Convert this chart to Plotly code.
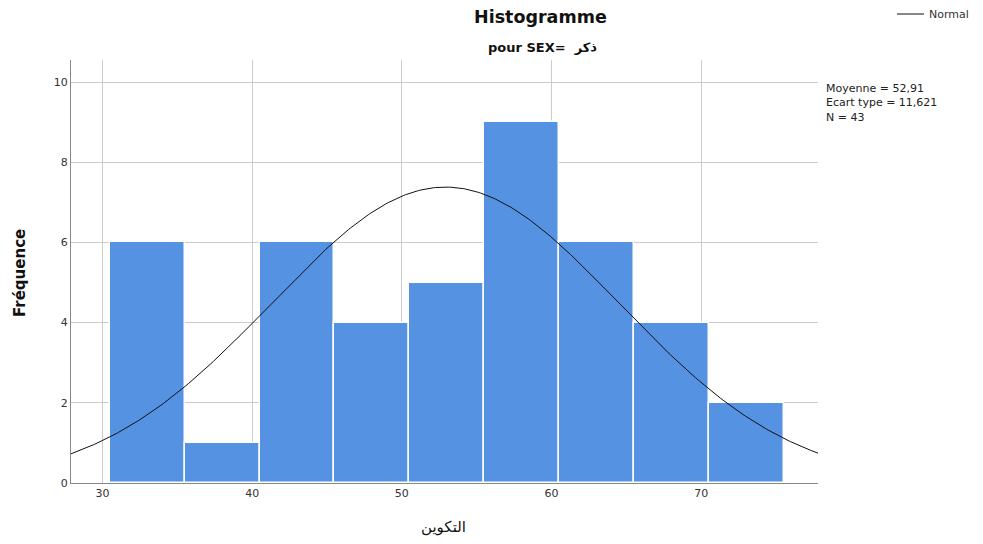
import numpy as np
import plotly.graph_objects as go

bin_starts = [30.5, 35.5, 40.5, 45.5, 50.5, 55.5, 60.5, 65.5, 70.5]
bin_width = 5
freqs = [6, 1, 6, 4, 5, 9, 6, 4, 2]
mean_val = 52.91
sd_val = 11.621
n_val = 43
x_ticks = [30, 40, 50, 60, 70]
y_ticks = [0, 2, 4, 6, 8, 10]
curve_name = "Normal"

centers = [s + bin_width / 2 for s in bin_starts]

xs = np.linspace(27.9, 77.8, 300)
ys = n_val * bin_width / (sd_val * np.sqrt(2 * np.pi)) * np.exp(-0.5 * ((xs - mean_val) / sd_val) ** 2)

OFF = 8  # default body margin of the html page
W, H = 983 - OFF, 544 - OFF
ML, MR, MT, MB = 71 - OFF, 165, 60 - OFF, 61

fig = go.Figure()
fig.add_trace(go.Bar(x=centers, y=freqs, width=bin_width,
                     marker=dict(color="#5593e2", line=dict(color="white", width=1.5)),
                     showlegend=False, hoverinfo="x+y"))
fig.add_trace(go.Scatter(x=xs, y=ys, mode="lines", line=dict(color="#111111", width=1),
                         name=curve_name, showlegend=False))

font_family = "DejaVu Sans, Liberation Sans, sans-serif"
fig.update_layout(
    width=W, height=H,
    margin=dict(l=ML, r=MR, t=MT, b=MB, autoexpand=False),
    paper_bgcolor="white", plot_bgcolor="white",
    font=dict(family=font_family, color="#222222", size=11),
    bargap=0,
    showlegend=False,
    xaxis=dict(range=[27.9, 77.8], tickvals=x_ticks, showgrid=True, gridcolor="#cccccc",
               gridwidth=1, zeroline=False, showline=True, linecolor="#888888", linewidth=1,
               ticks="", tickfont=dict(size=11, color="#333333"), automargin=False),
    yaxis=dict(range=[0, 10.55], tickvals=y_ticks, showgrid=True, gridcolor="#cccccc",
               gridwidth=1, zeroline=False, showline=True, linecolor="#888888", linewidth=1,
               ticks="", tickfont=dict(size=11, color="#333333"), automargin=False),
)

pw, ph = W - ML - MR, H - MT - MB
def px(xp):
    return (xp - OFF - ML) / pw
def py(yp):
    return (H - MB - (yp - OFF)) / ph

# legend key for the normal curve
fig.add_shape(type="line", xref="paper", yref="paper", x0=px(897), x1=px(924), y0=py(14), y1=py(14),
              line=dict(color="#111111", width=1))
fig.add_annotation(text=curve_name, x=px(927), y=py(14), xref="paper", yref="paper",
                   showarrow=False, font=dict(size=11, color="#333333"), xanchor="left", yanchor="middle")

fig.add_annotation(text="<b>Histogramme</b>", x=px(540), y=py(17), xref="paper", yref="paper",
                   showarrow=False, font=dict(size=17.5, color="#111111"), xanchor="center", yanchor="middle")
fig.add_annotation(text="<b>pour SEX=\u00a0\u00a0ذكر</b>", x=px(542), y=py(47), xref="paper", yref="paper",
                   showarrow=False, font=dict(size=13, color="#111111"), xanchor="center", yanchor="middle")
fig.add_annotation(text="<b>Fréquence</b>", x=px(20), y=py(273), xref="paper", yref="paper",
                   showarrow=False, textangle=-90, font=dict(size=15, color="#111111"),
                   xanchor="center", yanchor="middle")
fig.add_annotation(text="التكوين", x=px(443), y=py(527), xref="paper", yref="paper",
                   showarrow=False, font=dict(size=15, color="#111111"), xanchor="center", yanchor="middle")
fig.add_annotation(text=f"Moyenne = {str(mean_val).replace('.', ',')}<br>Ecart type = {str(sd_val).replace('.', ',')}<br>N = {n_val}",
                   x=px(824), y=py(80), xref="paper", yref="paper", showarrow=False, align="left",
                   font=dict(size=11, color="#222222"), xanchor="left", yanchor="top")

fig.write_html("out.html")
